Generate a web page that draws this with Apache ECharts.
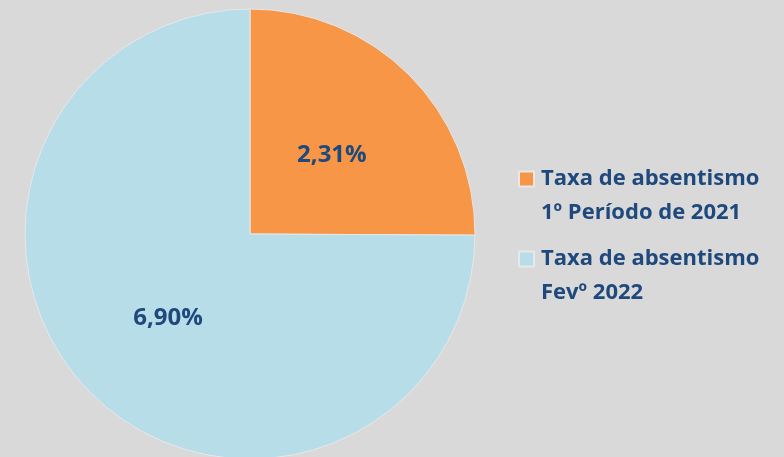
<!DOCTYPE html>
<html>
<head>
<meta charset="utf-8">
<script src="https://cdn.jsdelivr.net/npm/echarts@6/dist/echarts.min.js"></script>
<style>
  html, body { margin: 0; padding: 0; background: #d9d9d9; }
  #chart-root { width: 784px; height: 457px; }
</style>
</head>
<body>
<div id="chart-root"></div>
<script>
// dados do gráfico
const categories = ['Taxa de absentismo\n1º Período de 2021', 'Taxa de absentismo\nFevº 2022']
const values = [2.31, 6.90]
const labels = ['2,31%', '6,90%']
const colors = ['#f79646', '#b7dde8']

let chart = echarts.init(document.getElementById('chart-root'))

// ícone da legenda: quadrado no topo de uma caixa alta, para alinhar com a 1ª linha
const legendIcon = 'path://M0,0H15V15H0Z M0,49L0,49'

let option = {
  animation: false,
  backgroundColor: '#d9d9d9',
  legend: {
    orient: 'vertical',
    left: 513,
    top: 157,
    itemWidth: 15,
    itemHeight: 49,
    itemGap: 12,
    icon: legendIcon,
    selectedMode: false,
    textStyle: {
      fontFamily: 'Open Sans',
      fontWeight: 'bold',
      fontSize: 22,
      lineHeight: 34,
      color: '#1f497d',
      padding: [0, 0, 0, 2]
    },
    data: categories
  },
  series: [
    {
      type: 'pie',
      center: [250, 234],
      radius: 225,
      startAngle: 90,
      clockwise: true,
      silent: true,
      itemStyle: {
        borderColor: '#e8e8e8',
        borderWidth: 1
      },
      label: {
        show: true,
        position: 'inside',
        fontFamily: 'Open Sans',
        fontWeight: 'bold',
        fontSize: 24,
        color: '#1f497d',
        offset: [0, 3],
        formatter: p => labels[p.dataIndex]
      },
      labelLine: { show: false },
      data: categories.map((name, i) => ({
        name: name,
        value: values[i],
        itemStyle: { color: colors[i] }
      }))
    }
  ]
}

chart.setOption(option)
</script>
</body>
</html>
